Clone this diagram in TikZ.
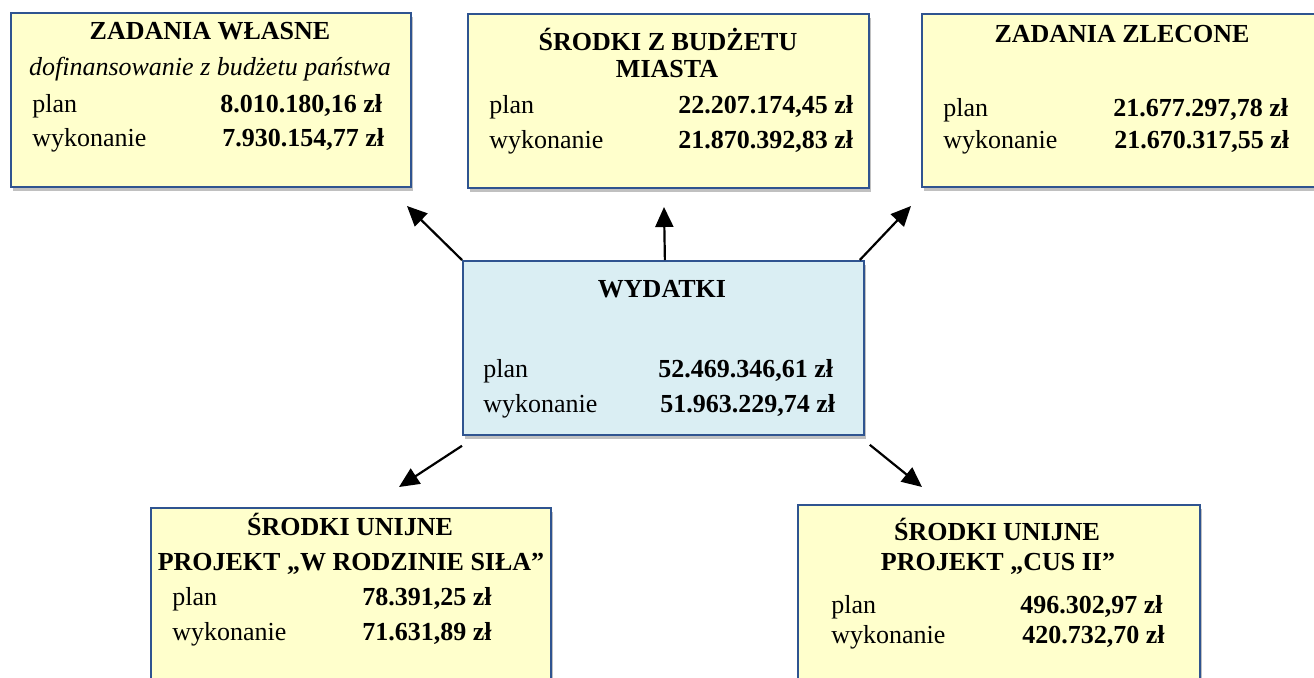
\documentclass[tikz,border=0pt]{standalone}
\usepackage{fontspec}
\setmainfont{Liberation Serif}
\usetikzlibrary{arrows.meta,shadows}

\definecolor{ramka}{HTML}{2F5490}
\definecolor{zolty}{HTML}{FFFFCC}
\definecolor{blekit}{HTML}{DAEEF3}

\tikzset{
  skrzynka/.style={draw=ramka, line width=0.9pt, fill=zolty, anchor=north west, inner sep=0pt,
    drop shadow={shadow xshift=1pt, shadow yshift=-2pt, opacity=0.45, fill=black!55}},
  tytul/.style={anchor=base, inner sep=0pt, font={\fontsize{13}{13}\selectfont\bfseries}},
  opis/.style={anchor=base west, inner sep=0pt, font={\fontsize{13}{13}\selectfont}},
  kwota/.style={anchor=base west, inner sep=0pt, font={\fontsize{13}{13}\selectfont\bfseries}},
  strzalka/.style={line width=1.1pt, -{Triangle[length=10pt,width=9pt]}}
}

\begin{document}
\begin{tikzpicture}[x=0.5pt, y=-0.5pt]

\useasboundingbox (0,0) rectangle (1314,677);

% skrzynki
\node [skrzynka, minimum width=200pt, minimum height=87pt] (wlasne) at (10,12) {};
\node [skrzynka, minimum width=200.5pt, minimum height=87pt] (budzet) at (467,13) {};
\node [skrzynka, minimum width=200pt, minimum height=86.5pt] (zlecone) at (921,13) {};
\node [skrzynka, fill=blekit, minimum width=200.5pt, minimum height=87pt] (wydatki) at (462,260) {};
\node [skrzynka, minimum width=200pt, minimum height=90pt] (rodzina) at (150,507) {};
\node [skrzynka, minimum width=201pt, minimum height=90pt] (cus) at (797,504) {};

% zadania wlasne
\node [tytul] (wlasne-t) at (210,39) {ZADANIA WŁASNE};
\node [tytul, font={\fontsize{13}{13}\selectfont\itshape}] (wlasne-d) at (210,75) {dofinansowanie z budżetu państwa};
\node [opis] (wlasne-p) at (32,112) {plan};
\node [kwota] (wlasne-pk) at (220,112) {8.010.180,16 zł};
\node [opis] (wlasne-w) at (32,146) {wykonanie};
\node [kwota] (wlasne-wk) at (222,146) {7.930.154,77 zł};

% srodki z budzetu miasta
\node [tytul] (budzet-t) at (668,50) {ŚRODKI Z BUDŻETU};
\node [tytul] (budzet-t2) at (667,77) {MIASTA};
\node [opis] (budzet-p) at (489,113) {plan};
\node [kwota] (budzet-pk) at (678,113) {22.207.174,45 zł};
\node [opis] (budzet-w) at (489,148) {wykonanie};
\node [kwota] (budzet-wk) at (678,148) {21.870.392,83 zł};

% zadania zlecone
\node [tytul] (zlecone-t) at (1122,42) {ZADANIA ZLECONE};
\node [opis] (zlecone-p) at (943,116) {plan};
\node [kwota] (zlecone-pk) at (1113,116) {21.677.297,78 zł};
\node [opis] (zlecone-w) at (943,148) {wykonanie};
\node [kwota] (zlecone-wk) at (1114,148) {21.670.317,55 zł};

% wydatki
\node [tytul] (wydatki-t) at (662,297) {WYDATKI};
\node [opis] (wydatki-p) at (483,377) {plan};
\node [kwota] (wydatki-pk) at (658,377) {52.469.346,61 zł};
\node [opis] (wydatki-w) at (483,412) {wykonanie};
\node [kwota] (wydatki-wk) at (660,412) {51.963.229,74 zł};

% srodki unijne - w rodzinie sila
\node [tytul] (rodzina-t) at (350,535) {ŚRODKI UNIJNE};
\node [tytul] (rodzina-t2) at (351,570) {PROJEKT „W RODZINIE SIŁA”};
\node [opis] (rodzina-p) at (172,605) {plan};
\node [kwota] (rodzina-pk) at (362,605) {78.391,25 zł};
\node [opis] (rodzina-w) at (172,640) {wykonanie};
\node [kwota] (rodzina-wk) at (362,640) {71.631,89 zł};

% srodki unijne - cus ii
\node [tytul] (cus-t) at (997,540) {ŚRODKI UNIJNE};
\node [tytul] (cus-t2) at (998,570) {PROJEKT „CUS II”};
\node [opis] (cus-p) at (831,613) {plan};
\node [kwota] (cus-pk) at (1020,613) {496.302,97 zł};
\node [opis] (cus-w) at (831,643) {wykonanie};
\node [kwota] (cus-wk) at (1022,643) {420.732,70 zł};

% strzalki
\coordinate (do-wlasne) at (407,206);
\coordinate (do-budzet) at (664,207);
\coordinate (do-zlecone) at (911,206);
\coordinate (do-rodzina) at (399,487);
\coordinate (do-cus) at (922,487);

\draw [strzalka] (wydatki.north west) -- (do-wlasne);
\draw [strzalka] ([xshift=0.75pt]wydatki.north) -- (do-budzet);
\draw [strzalka] ([xshift=-2.5pt]wydatki.north east) -- (do-zlecone);
\draw [strzalka] ([yshift=-5pt]wydatki.south west) -- (do-rodzina);
\draw [strzalka] ([xshift=2.5pt,yshift=-4.5pt]wydatki.south east) -- (do-cus);

\end{tikzpicture}
\end{document}
